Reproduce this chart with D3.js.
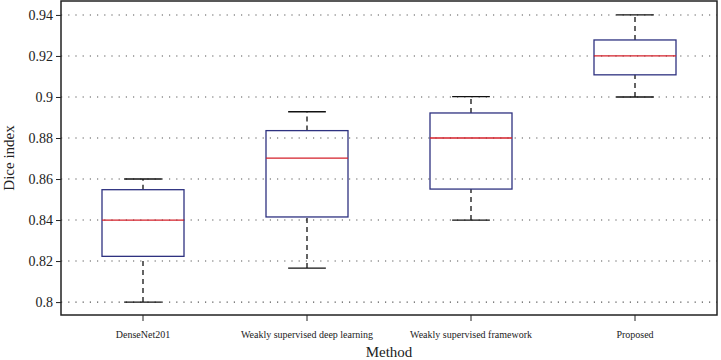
<!DOCTYPE html>
<html>
<head>
<meta charset="utf-8">
<script src="https://cdn.jsdelivr.net/npm/d3@7"></script>
<style>
  body { margin: 0; background: #fff; }
  text { font-family: "Liberation Serif", "DejaVu Serif", serif; fill: #222; }
</style>
</head>
<body>
<div id="chart"></div>
<script>
// box plot of dice index per method
const methods = ["DenseNet201", "Weakly supervised deep learning", "Weakly supervised framework", "Proposed"];
const whiskerLow = [0.800, 0.8166, 0.840, 0.900];
const q1 = [0.8223, 0.8415, 0.8551, 0.9108];
const medians = [0.840, 0.8702, 0.880, 0.920];
const q3 = [0.8548, 0.8836, 0.8922, 0.9278];
const whiskerHigh = [0.860, 0.8928, 0.9002, 0.940];
const yTicks = [0.8, 0.82, 0.84, 0.86, 0.88, 0.9, 0.92, 0.94];

const width = 721, height = 360;
const margin = {top: 1, right: 4, bottom: 45, left: 61};

const svg = d3.select("#chart")
    .append("svg")
    .attr("width", width)
    .attr("height", height);

const x = d3.scaleBand()
    .domain(methods)
    .range([margin.left, width - margin.right])
    .padding(0);

const y = d3.scaleLinear()
    .domain([0.7937, 0.9468])
    .range([height - margin.bottom, margin.top]);

const boxes = methods.map((m, i) => ({
    m, lo: whiskerLow[i], q1: q1[i], med: medians[i], q3: q3[i], hi: whiskerHigh[i]
}));

// dotted grid
svg.append("g")
    .selectAll("line")
    .data(yTicks)
    .join("line")
    .attr("x1", margin.left)
    .attr("x2", width - margin.right)
    .attr("y1", d => y(d))
    .attr("y2", d => y(d))
    .attr("stroke", "#555")
    .attr("stroke-width", 1.1)
    .attr("stroke-dasharray", "1.2,6");

// y axis
const yAxis = svg.append("g")
    .attr("transform", `translate(${margin.left},0)`)
    .call(d3.axisLeft(y).tickValues(yTicks).tickFormat(d => d3.format("")(+d.toFixed(2))).tickSize(5).tickPadding(3));
yAxis.select(".domain").remove();
yAxis.selectAll("line").attr("stroke", "#222");
yAxis.selectAll("text").style("font-size", "14px");

// x axis
const xAxis = svg.append("g")
    .attr("transform", `translate(0,${height - margin.bottom})`)
    .call(d3.axisBottom(x).tickSize(6).tickPadding(10));
xAxis.select(".domain").remove();
xAxis.selectAll("line").attr("stroke", "#222");
xAxis.selectAll("text").style("font-size", "10px");

// frame
svg.append("rect")
    .attr("x", margin.left)
    .attr("y", margin.top)
    .attr("width", width - margin.left - margin.right)
    .attr("height", height - margin.top - margin.bottom)
    .attr("fill", "none")
    .attr("stroke", "#222")
    .attr("stroke-width", 1.5);

const g = svg.append("g")
    .selectAll("g")
    .data(boxes)
    .join("g")
    .attr("transform", d => `translate(${x(d.m) + x.bandwidth() / 2},0)`);

const boxW = x.bandwidth() * 0.5;
const capW = x.bandwidth() * 0.23;

// whiskers
g.append("line")
    .attr("y1", d => y(d.lo)).attr("y2", d => y(d.q1))
    .attr("stroke", "#111").attr("stroke-width", 1.3).attr("stroke-dasharray", "5,4");
g.append("line")
    .attr("y1", d => y(d.q3)).attr("y2", d => y(d.hi))
    .attr("stroke", "#111").attr("stroke-width", 1.3).attr("stroke-dasharray", "5,4");

// caps
g.selectAll(".cap")
    .data(d => [d.lo, d.hi])
    .join("line")
    .attr("class", "cap")
    .attr("x1", -capW / 2).attr("x2", capW / 2)
    .attr("y1", d => y(d)).attr("y2", d => y(d))
    .attr("stroke", "#111").attr("stroke-width", 1.3);

// boxes
g.append("rect")
    .attr("x", -boxW / 2)
    .attr("y", d => y(d.q3))
    .attr("width", boxW)
    .attr("height", d => y(d.q1) - y(d.q3))
    .attr("fill", "none")
    .attr("stroke", "#2e3280")
    .attr("stroke-width", 1.3);

// medians
g.append("line")
    .attr("x1", -boxW / 2).attr("x2", boxW / 2)
    .attr("y1", d => y(d.med)).attr("y2", d => y(d.med))
    .attr("stroke", "#d4202a").attr("stroke-width", 1.3);

// axis titles
svg.append("text")
    .attr("x", (margin.left + width - margin.right) / 2)
    .attr("y", 357)
    .attr("text-anchor", "middle")
    .style("font-size", "15px")
    .text("Method");

svg.append("text")
    .attr("transform", `translate(14,${(margin.top + height - margin.bottom) / 2}) rotate(-90)`)
    .attr("text-anchor", "middle")
    .style("font-size", "15px")
    .text("Dice index");
</script>
</body>
</html>
